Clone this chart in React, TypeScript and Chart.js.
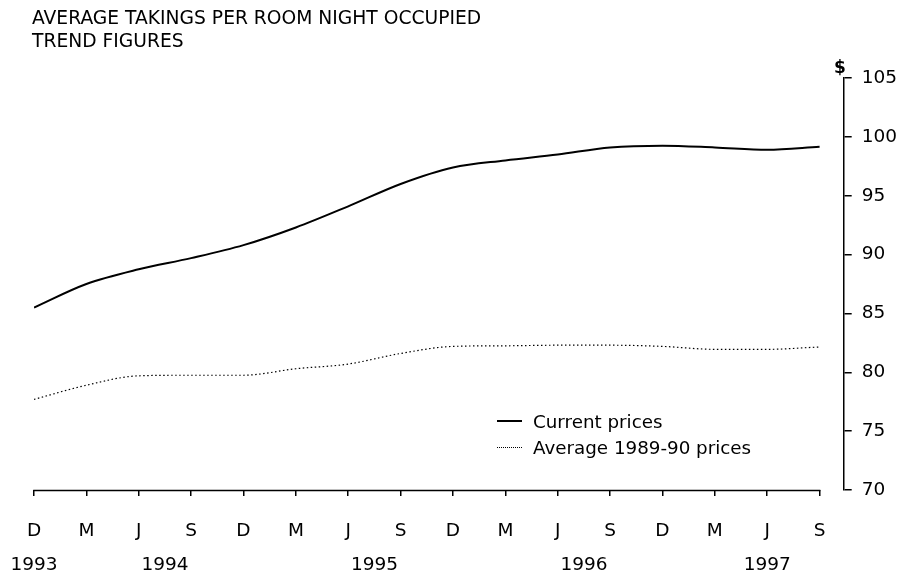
import React, { useEffect, useRef } from "react";
import { Chart, registerables } from "chart.js";

Chart.register(...registerables);

// Quarterly periods, Dec 1993 to Sep 1997
const periodMonths = ["D", "M", "J", "S", "D", "M", "J", "S", "D", "M", "J", "S", "D", "M", "J", "S"];
const periodYears = [1993, 1994, 1994, 1994, 1994, 1995, 1995, 1995, 1995, 1996, 1996, 1996, 1996, 1997, 1997, 1997];

// Average takings per room night occupied ($), trend
const currentPrices = [85.5, 87.5, 88.75, 89.7, 90.8, 92.3, 94.1, 96.0, 97.4, 98.0, 98.5, 99.1, 99.25, 99.1, 98.9, 99.15];
const averagePrices = [77.7, 78.9, 79.7, 79.75, 79.75, 80.3, 80.7, 81.6, 82.2, 82.25, 82.3, 82.3, 82.2, 81.95, 81.95, 82.15];

const yMin = 70;
const yMax = 105;
const yStep = 5;

const titleLines = ["AVERAGE TAKINGS PER ROOM NIGHT OCCUPIED", "TREND FIGURES"];
const unitLabel = "$";
const seriesNames = ["Current prices", "Average 1989-90 prices"];

const FONT = "'DejaVu Sans', sans-serif";

export default function App() {
  const canvasRef = useRef<HTMLCanvasElement | null>(null);

  useEffect(() => {
    const canvas = canvasRef.current;
    if (!canvas) return;

    const idx = periodMonths.map((_, i) => i);
    const years = Array.from(new Set(periodYears));
    const yearPos = years.map((yr) => {
      const ii = idx.filter((i) => periodYears[i] === yr);
      return ii.reduce((a, b) => a + b, 0) / ii.length;
    });

    const axisLinePlugin = {
      id: "xAxisLine",
      afterDraw(chart: any) {
        const x = chart.scales.x;
        const y = chart.scales.y;
        const ctx = chart.ctx;
        const py = Math.round(y.getPixelForValue(yMin)) + 0.5;
        ctx.save();
        ctx.strokeStyle = "#000";
        ctx.lineWidth = 1.5;
        ctx.beginPath();
        ctx.moveTo(x.getPixelForValue(0) - 0.75, py);
        ctx.lineTo(x.getPixelForValue(idx.length - 1) + 0.75, py);
        ctx.stroke();
        ctx.restore();
      },
    };

    const chart = new Chart(canvas, {
      type: "line",
      data: {
        datasets: [
          {
            label: seriesNames[0],
            data: idx.map((i) => ({ x: i, y: currentPrices[i] })),
            borderColor: "#000",
            borderWidth: 2,
            pointRadius: 0,
            cubicInterpolationMode: "monotone",
            fill: false,
          },
          {
            label: seriesNames[1],
            data: idx.map((i) => ({ x: i, y: averagePrices[i] })),
            borderColor: "#000",
            borderWidth: 1.2,
            borderDash: [1.5, 2.5],
            pointRadius: 0,
            cubicInterpolationMode: "monotone",
            fill: false,
          },
        ],
      },
      options: {
        animation: false,
        responsive: false,
        devicePixelRatio: 1,
        layout: { padding: { left: 34, right: 5, top: 78, bottom: 88 } },
        plugins: {
          legend: { display: false },
          tooltip: { enabled: false },
          title: { display: false },
        },
        scales: {
          x: {
            type: "linear",
            position: { y: yMin },
            min: 0,
            max: 15.46,
            afterBuildTicks: (scale: any) => {
              scale.ticks = idx.map((i) => ({ value: i }));
            },
            ticks: {
              autoSkip: false,
              maxRotation: 0,
              padding: 0,
              color: "#000",
              font: { family: FONT, size: 18.5, lineHeight: "71px" },
              callback: (v: any) => periodMonths[Math.round(Number(v))] ?? "",
            },
            grid: {
              display: true,
              drawOnChartArea: false,
              drawTicks: true,
              tickLength: 6,
              color: "#000",
              lineWidth: 1.5,
            },
            border: { display: false },
          },
          x2: {
            type: "linear",
            position: { y: yMin },
            min: 0,
            max: 15.46,
            afterBuildTicks: (scale: any) => {
              scale.ticks = yearPos.map((p) => ({ value: p }));
            },
            ticks: {
              autoSkip: false,
              maxRotation: 0,
              padding: 0,
              color: "#000",
              font: { family: FONT, size: 18.5, lineHeight: "150px" },
              callback: (v: any) => {
                const k = yearPos.findIndex((p) => Math.abs(p - Number(v)) < 1e-6);
                return k >= 0 ? String(years[k]) : "";
              },
            },
            grid: { display: false, drawTicks: false },
            border: { display: false },
          },
          y: {
            type: "linear",
            position: "right",
            min: yMin,
            max: yMax,
            ticks: {
              stepSize: yStep,
              padding: 10,
              color: "#000",
              font: { family: FONT, size: 18.5 },
            },
            grid: {
              display: true,
              drawOnChartArea: false,
              drawTicks: true,
              tickLength: 8,
              color: "#000",
              lineWidth: 1.5,
            },
            border: { display: true, color: "#000", width: 1.5 },
          },
        },
      },
      plugins: [axisLinePlugin],
    } as any);

    return () => chart.destroy();
  }, []);

  return (
    <div style={{ position: "absolute", left: 0, top: 0, width: 912, height: 578, background: "#fff" }}>
      <canvas ref={canvasRef} width={912} height={578} style={{ display: "block", width: 912, height: 578 }} />
      <div
        style={{
          position: "absolute",
          left: 32,
          top: 6,
          fontFamily: FONT,
          fontSize: 18.7,
          lineHeight: "23px",
          color: "#000",
          whiteSpace: "nowrap",
        }}
      >
        {titleLines.map((t) => (
          <div key={t}>{t}</div>
        ))}
      </div>
      <div
        style={{
          position: "absolute",
          left: 834,
          top: 57,
          fontFamily: FONT,
          fontSize: 17,
          fontWeight: "bold",
          color: "#000",
        }}
      >
        {unitLabel}
      </div>
      <div style={{ position: "absolute", left: 497, top: 408, fontFamily: FONT, fontSize: 18.3, color: "#000" }}>
        {seriesNames.map((name, k) => (
          <div key={name} style={{ display: "flex", alignItems: "center", height: 26, whiteSpace: "nowrap" }}>
            <span
              style={{
                display: "inline-block",
                width: 25,
                marginRight: 11,
                borderTop: k === 0 ? "2px solid #000" : "1.5px dotted #000",
              }}
            />
            <span>{name}</span>
          </div>
        ))}
      </div>
    </div>
  );
}
